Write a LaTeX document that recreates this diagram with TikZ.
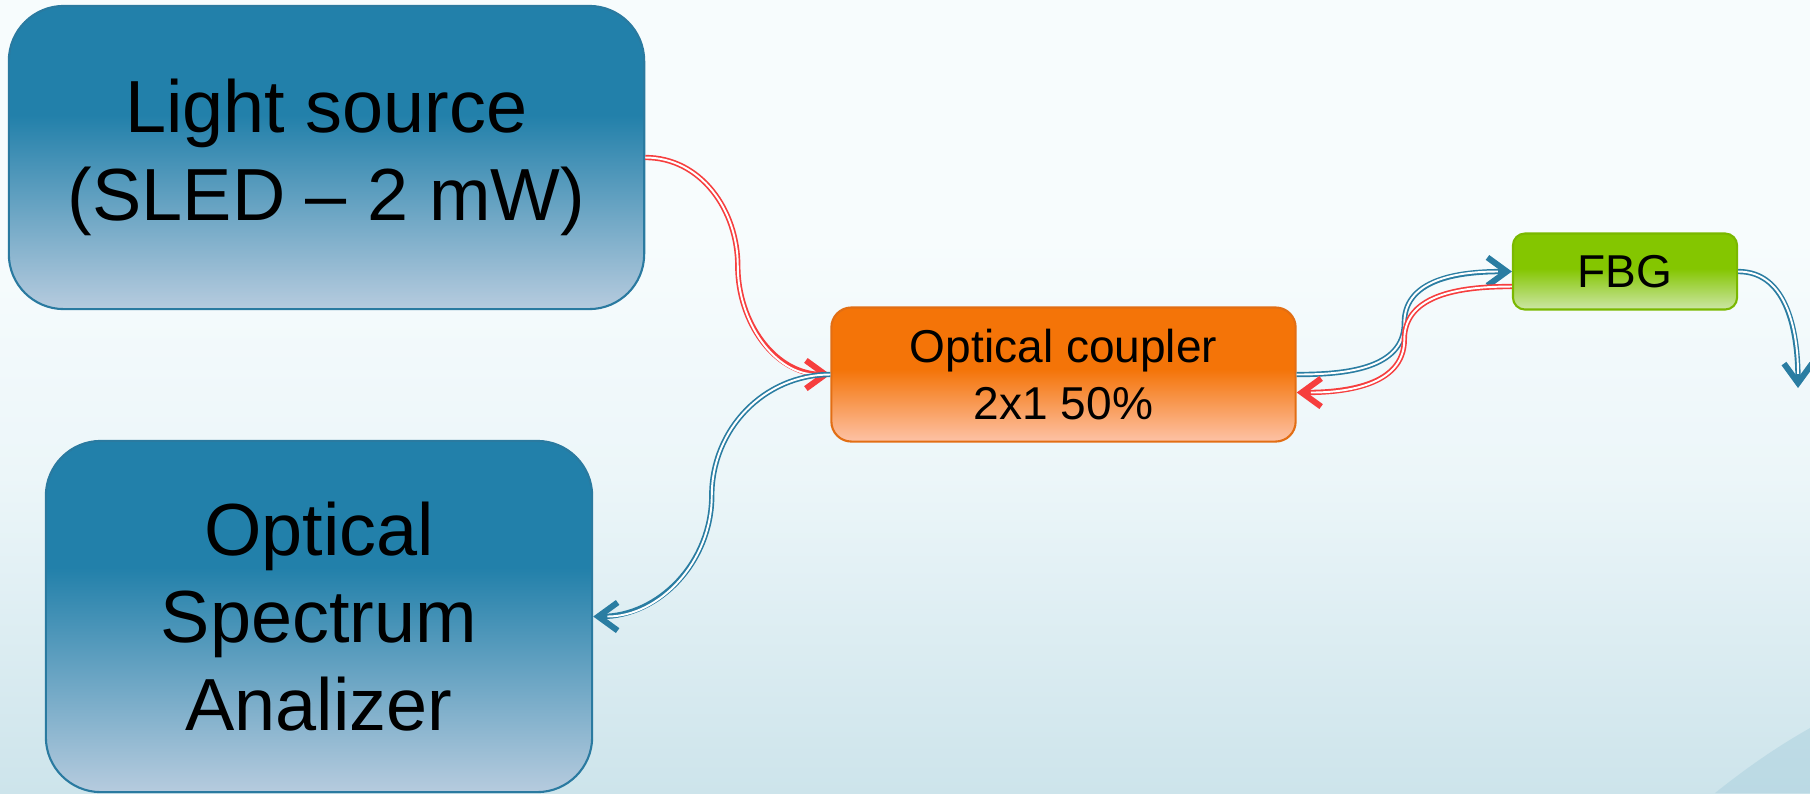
\documentclass[tikz,border=0pt]{standalone}
\usepackage{fontspec}
\setmainfont{Liberation Sans}
\usetikzlibrary{arrows.meta,calc}
\definecolor{bgtop}{RGB}{247,252,253}
\definecolor{bgmid}{RGB}{236,246,249}
\definecolor{bgbot}{RGB}{205,228,235}
\definecolor{bluedark}{RGB}{34,128,170}
\definecolor{bluelight}{RGB}{182,203,222}
\definecolor{blueline}{RGB}{42,122,160}
\definecolor{orangedark}{RGB}{244,116,8}
\definecolor{orangelight}{RGB}{253,194,166}
\definecolor{orangeline}{RGB}{226,110,20}
\definecolor{greendark}{RGB}{132,198,0}
\definecolor{greenlight}{RGB}{204,230,166}
\definecolor{greenline}{RGB}{122,184,0}
\definecolor{fibrered}{RGB}{246,62,62}
\definecolor{fibreblue}{RGB}{42,125,162}
\definecolor{swoosh}{RGB}{170,208,222}
\pgfdeclareverticalshading{bgshade}{100bp}{color(0bp)=(bgbot); color(25bp)=(bgbot); color(45bp)=(bgmid); color(60bp)=(bgtop); color(100bp)=(bgtop)}
\pgfdeclareverticalshading{blueshade}{100bp}{color(0bp)=(bluelight); color(25bp)=(bluelight); color(57bp)=(bluedark); color(100bp)=(bluedark)}
\pgfdeclareverticalshading{orangeshade}{100bp}{color(0bp)=(orangelight); color(25bp)=(orangelight); color(52bp)=(orangedark); color(100bp)=(orangedark)}
\pgfdeclareverticalshading{greenshade}{100bp}{color(0bp)=(greenlight); color(25bp)=(greenlight); color(52bp)=(greendark); color(100bp)=(greendark)}
\begin{document}
\begin{tikzpicture}[x=0.01cm,y=-0.01cm,
  bigbox/.style={draw=blueline,line width=0.6pt,shading=blueshade,rounded corners=0.55cm,
    inner sep=0pt,align=center,font=\fontsize{21}{25}\selectfont},
  smallbox/.style={line width=0.6pt,inner sep=0pt,align=center,font=\fontsize{13.1}{16.2}\selectfont},
  fibretip/.style={-{Straight Barb[length=5.5pt,width=8pt,line width=1.7pt]}},
  fibre/.style={draw=#1,line width=1.5pt,fibretip,
    postaction={draw=white,line width=0.55pt,arrows=-,shorten >=4pt}}]
\shade[shading=bgshade] (0,0) rectangle (1810,793);
\fill[swoosh,opacity=0.5] (1715,793) .. controls (1750,765) and (1780,745) .. (1810,728) -- (1810,793) -- cycle;
\useasboundingbox (0,0) rectangle (1810,793);
\node[bigbox,minimum width=6.35cm,minimum height=3.03cm] (ls) at (326.5,157.5) {Light source\\(SLED -- 2 mW)};
\node[bigbox,minimum width=5.46cm,minimum height=3.51cm] (osa) at (319,616.5) {Optical\\Spectrum\\Analizer};
\node[smallbox,draw=orangeline,shading=orangeshade,rounded corners=0.2cm,
  minimum width=4.64cm,minimum height=1.34cm] (cp) at (1063.5,374.5) {Optical coupler\\2x1 50\%};
\node[smallbox,draw=greenline,shading=greenshade,rounded corners=0.12cm,
  minimum width=2.24cm,minimum height=0.76cm] (fbg) at (1625,271.5) {FBG};
\coordinate (fbgin) at ([yshift=-0.15cm]fbg.west);
\coordinate (cpin) at ([yshift=-0.18cm]cp.east);
\coordinate (out) at (1798,388);
\draw[fibre=fibrered] (ls.east) to[out=0,in=90] ($(ls.east)!0.5!(cp.west)$) to[out=-90,in=180] (cp.west);
\draw[fibre=fibreblue] (cp.west) to[out=180,in=90] ($(cp.west)!0.5!(osa.east)$) to[out=-90,in=0] (osa.east);
\draw[fibre=fibreblue] (cp.east) to[out=0,in=-90] ($(cp.east)!0.5!(fbg.west)$) to[out=90,in=180] (fbg.west);
\draw[fibre=fibrered] (fbgin) to[out=180,in=90] ($(fbgin)!0.5!(cpin)$) to[out=-90,in=0] (cpin);
\draw[fibre=fibreblue] (fbg.east) to[out=0,in=90] (out);
\end{tikzpicture}
\end{document}
